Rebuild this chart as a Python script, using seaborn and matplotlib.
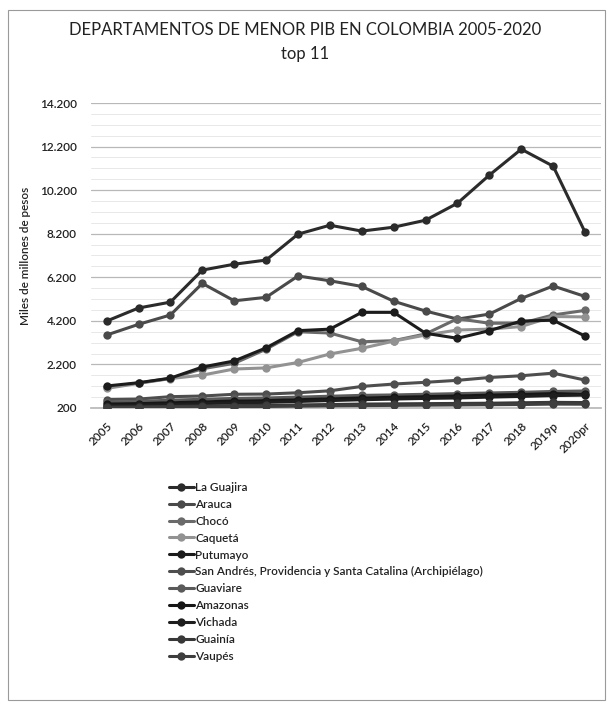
import matplotlib
matplotlib.use("Agg")
import matplotlib.pyplot as plt
import seaborn as sns
import pandas as pd
from matplotlib.lines import Line2D
from matplotlib.patches import Rectangle

years = ["2005", "2006", "2007", "2008", "2009", "2010", "2011", "2012",
         "2013", "2014", "2015", "2016", "2017", "2018", "2019p", "2020pr"]

la_guajira = [4190, 4790, 5060, 6530, 6800, 6990, 8180, 8590, 8320, 8500, 8820, 9600, 10890, 12080, 11300, 8270]
arauca     = [3550, 4040, 4470, 5920, 5120, 5280, 6260, 6040, 5780, 5100, 4650, 4280, 4510, 5230, 5800, 5320]
choco      = [1150, 1350, 1560, 2000, 2250, 2900, 3700, 3640, 3240, 3290, 3600, 4300, 4090, 4090, 4470, 4680]
caqueta    = [1100, 1330, 1550, 1710, 1990, 2040, 2290, 2680, 2940, 3270, 3550, 3780, 3820, 3940, 4400, 4380]
putumayo   = [1210, 1360, 1570, 2080, 2360, 2960, 3750, 3820, 4590, 4590, 3630, 3400, 3750, 4190, 4230, 3500]
san_andres = [590, 610, 720, 750, 830, 840, 900, 990, 1190, 1300, 1380, 1470, 1600, 1680, 1800, 1480]
guaviare   = [470, 500, 560, 600, 640, 660, 700, 740, 780, 800, 830, 860, 890, 920, 960, 980]
amazonas   = [380, 400, 440, 480, 520, 540, 580, 620, 660, 690, 720, 750, 790, 820, 860, 840]
vichada    = [300, 320, 360, 400, 430, 460, 500, 540, 580, 610, 640, 660, 700, 730, 770, 790]
guainia    = [240, 250, 270, 290, 310, 320, 340, 360, 380, 390, 400, 410, 420, 440, 460, 450]
vaupes     = [215, 220, 235, 250, 265, 270, 285, 300, 310, 320, 330, 340, 350, 360, 380, 375]

departamentos = ["La Guajira", "Arauca", "Chocó", "Caquetá", "Putumayo",
                 "San Andrés, Providencia y Santa Catalina (Archipiélago)",
                 "Guaviare", "Amazonas", "Vichada", "Guainía", "Vaupés"]
series = [la_guajira, arauca, choco, caqueta, putumayo, san_andres,
          guaviare, amazonas, vichada, guainia, vaupes]

y_ticks = [200, 2200, 4200, 6200, 8200, 10200, 12200, 14200]
y_tick_labels = ["200", "2.200", "4.200", "6.200", "8.200", "10.200", "12.200", "14.200"]

title = "DEPARTAMENTOS DE MENOR PIB EN COLOMBIA 2005-2020\ntop 11"
ylabel = "Miles de millones de pesos"

colors = ["#2b2b2b", "#4a4a4a", "#6a6a6a", "#929292", "#1c1c1c", "#4e4e4e",
          "#5a5a5a", "#161616", "#1e1e1e", "#383838", "#3e3e3e"]
palette = dict(zip(departamentos, colors))

rows = []
for name, vals in zip(departamentos, series):
    for i, (yr, v) in enumerate(zip(years, vals)):
        rows.append({"pos": i, "year": yr, "valor": v, "departamento": name})
df = pd.DataFrame(rows)

sns.set_theme(style="white")
plt.rcParams["font.family"] = ["Lato", "DejaVu Sans"]

fig = plt.figure(figsize=(6.10, 7.08), dpi=100)
fig.patch.set_facecolor("white")
ax = fig.add_axes([90.7 / 610, 1 - 408 / 708, (601 - 90.7) / 610, (408 - 103) / 708])

# minor faint gridlines and major gridlines
for yv in range(200, 14201, 500):
    ax.axhline(yv, color="#e4e4e4", lw=0.6, zorder=0)
for yv in y_ticks:
    ax.axhline(yv, color="#b8b8b8", lw=0.9, zorder=0)

sns.lineplot(data=df, x="pos", y="valor", hue="departamento", hue_order=departamentos,
             palette=palette, marker="o", markersize=6, markeredgewidth=0,
             linewidth=2.2, sort=False, legend=False, ax=ax, zorder=3)

ax.set_xlim(-0.5, len(years) - 0.5)
ax.set_ylim(200, 14200)
ax.set_yticks(y_ticks)
ax.set_yticklabels(y_tick_labels, fontsize=8.5, color="#222222", fontweight="semibold")
ax.set_xticks(range(len(years)))
ax.set_xticklabels(years, rotation=45, ha="right", va="top", rotation_mode="anchor",
                   fontsize=8.5, color="#222222", fontweight="semibold")
ax.tick_params(axis="x", length=0, pad=9)
ax.tick_params(axis="y", length=0, pad=10)
for s in ["top", "right", "left"]:
    ax.spines[s].set_visible(False)
ax.spines["bottom"].set_color("#b8b8b8")
ax.set_xlabel("")
ax.set_ylabel(ylabel, fontsize=8.5, color="#222222", labelpad=6, fontweight="semibold")

fig.text(0.5, 1 - 42 / 708, title, ha="center", va="center", fontsize=12,
         color="#222222", linespacing=1.6)

handles = [Line2D([0], [0], color=c, lw=2.2, marker="o", markersize=6, markeredgewidth=0)
           for c in colors]
fig.legend(handles, departamentos, loc="upper left",
           bbox_to_anchor=(163 / 610, 1 - 476 / 708), frameon=False,
           prop={"size": 8.5, "weight": "semibold"}, handlelength=2.1, handletextpad=0.15,
           labelspacing=0.5, borderpad=0, labelcolor="#222222")

fig.patches.append(Rectangle((8 / 610, 1 - 700 / 708), 597 / 610, 690 / 708,
                             transform=fig.transFigure, fill=False,
                             edgecolor="#9a9a9a", lw=0.8))

fig.savefig("out.png", dpi=100, facecolor="white")
